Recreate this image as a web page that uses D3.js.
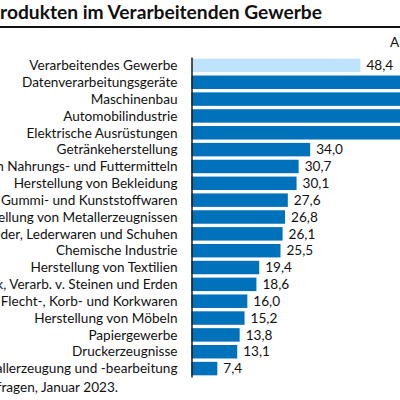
<!DOCTYPE html>
<html>
<head>
<meta charset="utf-8">
<script src="https://cdn.jsdelivr.net/npm/d3@7"></script>
<style>
  html, body { margin: 0; padding: 0; background: #fff; overflow: hidden; }
  svg { display: block; font-family: "Source Sans Pro", Lato, "Open Sans", sans-serif; }
</style>
</head>
<body>
<svg id="chart" width="400" height="400"></svg>
<script>
'use strict';

var categories = [
  'Verarbeitendes Gewerbe',
  'Datenverarbeitungsgeräte',
  'Maschinenbau',
  'Automobilindustrie',
  'Elektrische Ausrüstungen',
  'Getränkeherstellung',
  'Herstellung von Nahrungs- und Futtermitteln',
  'Herstellung von Bekleidung',
  'Herstellung von Gummi- und Kunststoffwaren',
  'Herstellung von Metallerzeugnissen',
  'Herstellung von Leder, Lederwaren und Schuhen',
  'Chemische Industrie',
  'Herstellung von Textilien',
  'Glas, Keramik, Verarb. v. Steinen und Erden',
  'Holz-, Flecht-, Korb- und Korkwaren',
  'Herstellung von Möbeln',
  'Papiergewerbe',
  'Druckerzeugnisse ',
  'Metallerzeugung und -bearbeitung'
];

var values = [48.4, 78.2, 71.6, 68.5, 64.7, 34.0, 30.7, 30.1, 27.6, 26.8, 26.1, 25.5,
  19.4, 18.6, 16.0, 15.2, 13.8, 13.1, 7.4];

var titleText = 'Materialmangel bei Vorprodukten im Verarbeitenden Gewerbe';
var unitText = 'Anteil in %';
var sourceText = 'Quelle: ifo Konjunkturumfragen, Januar 2023.';

function FormatValue(v) {
  return d3.format('.1f')(v).replace('.', ',');
}

function GetBarColor(d, i) {
  return i === 0 ? '#bfe3fa' : '#0071bb';
}

function RenderChart() {
  var svg = d3.select('#chart');
  var rows = categories.map(function(c, i) {
    return { label: c, value: values[i], index: i };
  });

  var x = d3.scaleLinear().domain([0, 10]).range([191.5, 226.4]);
  var y = d3.scaleBand()
      .domain(d3.range(categories.length))
      .range([57, 377])
      .paddingInner(0.2)
      .paddingOuter(0.1);

  svg.append('text')
      .attr('x', 322)
      .attr('y', 19)
      .attr('text-anchor', 'end')
      .attr('font-size', 19.2)
      .attr('font-weight', 'bold')
      .attr('fill', '#111')
      .text(titleText);

  svg.append('line')
      .attr('x1', 0).attr('x2', 400)
      .attr('y1', 27).attr('y2', 27)
      .attr('stroke', '#111')
      .attr('stroke-width', 2.2);

  svg.append('text')
      .attr('x', 390)
      .attr('y', 47)
      .attr('font-size', 13.6)
      .attr('fill', '#111')
      .text(unitText);

  var row = svg.append('g').selectAll('g')
      .data(rows)
    .enter().append('g');

  row.append('rect')
      .attr('x', x(0))
      .attr('y', function(d) { return y(d.index); })
      .attr('width', function(d) { return x(d.value) - x(0); })
      .attr('height', y.bandwidth())
      .attr('fill', GetBarColor);

  row.append('text')
      .attr('x', x(0) - 14)
      .attr('y', function(d) { return y(d.index) + y.bandwidth() / 2; })
      .attr('dy', '0.35em')
      .attr('text-anchor', 'end')
      .attr('font-size', 13.6)
      .attr('fill', '#111')
      .text(function(d) { return d.label; });

  row.append('text')
      .attr('x', function(d) { return x(d.value) + 6; })
      .attr('y', function(d) { return y(d.index) + y.bandwidth() / 2; })
      .attr('dy', '0.35em')
      .attr('font-size', 13.6)
      .attr('fill', '#111')
      .text(function(d) { return FormatValue(d.value); });

  svg.append('g')
      .attr('transform', 'translate(' + x(0) + ',0)')
      .call(d3.axisLeft(y).tickSize(0).tickFormat(''))
      .call(function(g) { g.select('.domain').attr('stroke', '#111').attr('stroke-width', 1.4); });

  svg.append('text')
      .attr('x', 118)
      .attr('y', 392)
      .attr('text-anchor', 'end')
      .attr('font-size', 13.6)
      .attr('fill', '#111')
      .text(sourceText);
}

RenderChart();
</script>
</body>
</html>
